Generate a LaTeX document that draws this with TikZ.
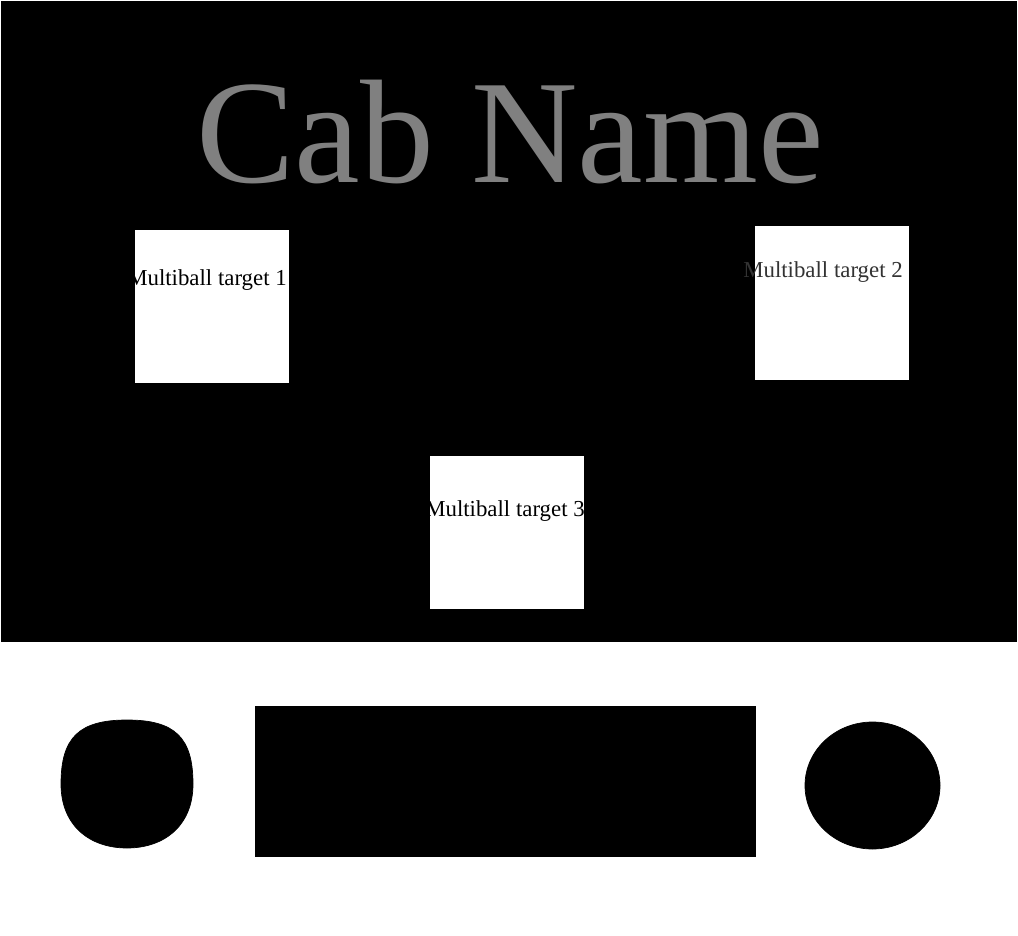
\documentclass[tikz,border=0pt]{standalone}
\usepackage{fontspec}
\setmainfont{Liberation Serif}
\usepackage{tikz}
\tikzset{
	target/.style={fill=white},
	targetlabel/.style={inner sep=0pt, font=\fontsize{13}{15}\selectfont}
}

\begin{document}
\begin{tikzpicture}
		%%%%% START %%%%%
		\useasboundingbox (0, 0) rectangle (20.36, 18.7);
		
		\draw[fill=black] (0.02, 5.88) rectangle (20.32, 18.68);
		
		\node[anchor=base, inner sep=0pt, color=black!50, font=\fontsize{84}{96}\selectfont] (cabname) at (10.2, 15.04) {Cab Name};
		
		\draw[target] (2.68, 11.04) rectangle (5.78, 14.12);
		\node[targetlabel] (target1) at (4.14, 13.1) {Multiball target 1};
		
		\draw[target] (15.08, 11.1) rectangle (18.18, 14.2);
		\node[targetlabel, color=black!80] (target2) at (16.46, 13.26) {Multiball target 2};
		
		\draw[target] (8.58, 6.52) rectangle (11.68, 9.6);
		\node[targetlabel] (target3) at (10.1, 8.48) {Multiball target 3};
		
		\draw[fill=black] (5.1, 1.58) rectangle (15.1, 4.58);
		
		\draw[fill=black] (2.54, 4.3) .. controls (3.5, 4.3) and (3.86, 3.95) .. (3.86, 3.02)
			.. controls (3.86, 2.2) and (3.3, 1.74) .. (2.54, 1.74)
			.. controls (1.78, 1.74) and (1.22, 2.2) .. (1.22, 3.02)
			.. controls (1.22, 3.95) and (1.58, 4.3) .. (2.54, 4.3) -- cycle;
		\draw[fill=black] (17.45, 2.99) ellipse (1.35 and 1.27);
		
		%%%%% END %%%%%
	\end{tikzpicture}
\end{document}
